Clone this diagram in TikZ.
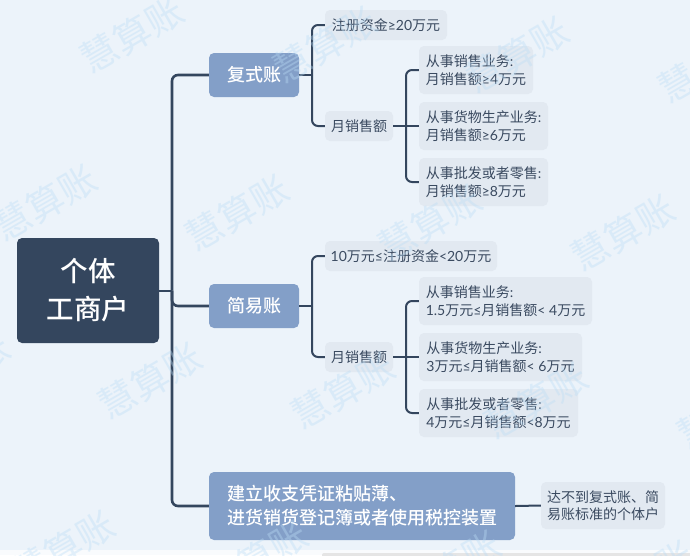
\documentclass[tikz,border=0pt]{standalone}
\usepackage{fontspec}
\setmainfont{Noto Sans CJK SC}
\newfontfamily\latfont{Lato}
\newfontfamily\medfont{Noto Sans CJK SC Medium}
\newcommand{\lat}[1]{{\latfont #1}}
\definecolor{pagebg}{HTML}{ECF3FA}
\definecolor{rootfill}{HTML}{34465E}
\definecolor{mainfill}{HTML}{839FC8}
\definecolor{leaffill}{HTML}{E2E9F1}
\definecolor{leaftext}{HTML}{3A4A60}
\definecolor{markblue}{HTML}{BBDDF6}
\tikzset{
	rootbox/.style={fill=rootfill,text=white,rounded corners=5pt,inner sep=0pt,align=center,font=\medfont\fontsize{27.5}{38}\selectfont},
	mainbox/.style={fill=mainfill,text=white,rounded corners=5pt,inner sep=0pt,align=left,font=\medfont\fontsize{18}{24}\selectfont},
	leafbox/.style={fill=leaffill,text=leaftext,rounded corners=5pt,inner sep=0pt,align=left,font=\fontsize{14}{17.6}\selectfont},
	trunkline/.style={draw=rootfill,line width=2.6pt,rounded corners=6pt},
	forkline/.style={draw=rootfill,line width=2pt,rounded corners=6pt},
	markword/.style={text=markblue,opacity=0.38,rotate=30,font=\fontsize{37}{37}\selectfont},
}
\begin{document}
\begin{tikzpicture}[x=1pt,y=-1pt]
	\useasboundingbox (0,0) rectangle (690,555);
	\fill [pagebg] (0,0) rectangle (690,555);
	% bottom strip
	\fill [white!70!pagebg] (0,550) rectangle (690,555);
	\fill [black!10,rounded corners=2pt] (322,553) rectangle (695,560);

	\node [rootbox,minimum width=142pt,minimum height=105pt] (root) at (88, 290.5) {个体\\工商户};

	\node [mainbox,minimum width=90pt,minimum height=44pt] (fushi) at (254, 75) {复式账};
	\node [mainbox,minimum width=90pt,minimum height=44pt] (jianyi) at (254, 306) {简易账};
	\node [mainbox,minimum width=306pt,minimum height=68pt] (jianli) at (362, 506) {建立收支凭证粘贴薄、\\进货销货登记簿或者使用税控装置};

	\node [leafbox,minimum width=122pt,minimum height=30pt] (ziben1) at (386, 25) {注册资金\lat{≥20}万元};
	\node [leafbox,minimum width=68pt,minimum height=30pt] (yue1) at (359, 126) {月销售额};
	\node [leafbox,minimum width=114pt,minimum height=48pt] (ye1) at (476, 70) {从事销售业务\lat{:}\\月销售额\lat{≥4}万元};
	\node [leafbox,minimum width=129pt,minimum height=48pt] (ye2) at (483.5, 126) {从事货物生产业务\lat{:}\\月销售额\lat{≥6}万元};
	\node [leafbox,minimum width=129pt,minimum height=48pt] (ye3) at (483.5, 182) {从事批发或者零售\lat{:}\\月销售额\lat{≥8}万元};

	\node [leafbox,minimum width=172pt,minimum height=30pt] (ziben2) at (411, 256) {\lat{10}万元\lat{≤}注册资金\lat{<20}万元};
	\node [leafbox,minimum width=68pt,minimum height=30pt] (yue2) at (359, 357) {月销售额};
	\node [leafbox,minimum width=173pt,minimum height=48pt] (ye4) at (505.5, 301) {从事销售业务\lat{:}\\\lat{1.5}万元\lat{≤}月销售额\lat{< 4}万元};
	\node [leafbox,minimum width=163pt,minimum height=48pt] (ye5) at (500.5, 357) {从事货物生产业务\lat{:}\\\lat{3}万元\lat{≤}月销售额\lat{< 6}万元};
	\node [leafbox,minimum width=159pt,minimum height=48pt] (ye6) at (498.5, 413) {从事批发或者零售\lat{:}\\\lat{4}万元\lat{≤}月销售额\lat{<8}万元};

	\node [leafbox,minimum width=124pt,minimum height=47pt] (buda) at (603, 505.5) {达不到复式账、简\\易账标准的个体户};

	% joints
	\coordinate (join0) at (172, 290.5);
	\coordinate (join1) at (312, 75);
	\coordinate (join2) at (406, 126);
	\coordinate (join3) at (312, 306);
	\coordinate (join4) at (406, 357);

	% edges
	\draw [forkline] (root.east) -- (join0);
	\draw [trunkline] (join0) |- (fushi.west);
	\draw [trunkline] (join0) |- (jianyi.west);
	\draw [trunkline] (join0) |- (jianli.west);

	\draw [forkline] (fushi.east) -- (join1);
	\draw [forkline] (join1) |- (ziben1.west);
	\draw [forkline] (join1) |- (yue1.west);
	\draw [forkline] (yue1.east) -- (ye2.west);
	\draw [forkline] (join2) |- (ye1.west);
	\draw [forkline] (join2) |- (ye3.west);

	\draw [forkline] (jianyi.east) -- (join3);
	\draw [forkline] (join3) |- (ziben2.west);
	\draw [forkline] (join3) |- (yue2.west);
	\draw [forkline] (yue2.east) -- (ye5.west);
	\draw [forkline] (join4) |- (ye4.west);
	\draw [forkline] (join4) |- (ye6.west);

	\draw [forkline] (jianli.east) -- (buda.west);

	% watermark
	\foreach \i/\markx/\marky in {a/132/35,b/325/45,c/517/55,d/710/65,
		e/45/203,f/237/213,g/430/223,h/623/233,
		i/-42/371,j/150/381,k/343/391,l/536/401,m/729/411,
		n/63/549,o/256/559,p/449/569,q/642/579}
		\node [markword] (mark\i) at (\markx, \marky) {慧算账};
\end{tikzpicture}
\end{document}
